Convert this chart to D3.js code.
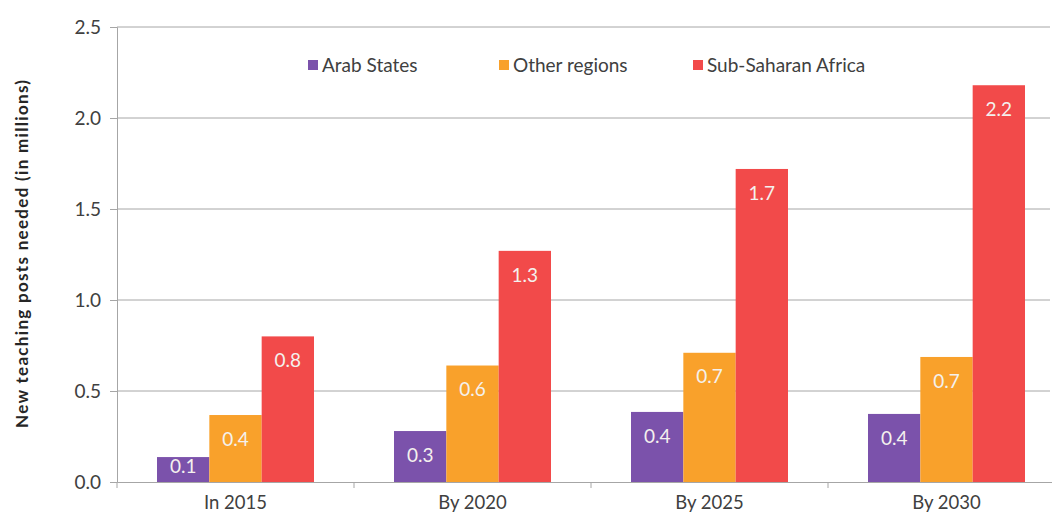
<!DOCTYPE html>
<html>
<head>
<meta charset="utf-8">
<script src="https://cdn.jsdelivr.net/npm/d3@7"></script>
<style>
  body { margin: 0; background: #fff; }
  text { font-family: Lato, "Open Sans", sans-serif; }
</style>
</head>
<body>
<div id="chart"></div>
<script>
const periods = ['In 2015', 'By 2020', 'By 2025', 'By 2030'];
const regions = ['Arab States', 'Other regions', 'Sub-Saharan Africa'];
const arabStates = [0.137, 0.28, 0.385, 0.374];
const otherRegions = [0.368, 0.64, 0.71, 0.687];
const subSaharan = [0.80, 1.27, 1.72, 2.18];
const barLabels = [
  ['0.1', '0.3', '0.4', '0.4'],
  ['0.4', '0.6', '0.7', '0.7'],
  ['0.8', '1.3', '1.7', '2.2']
];
const yTicks = [0, 0.5, 1.0, 1.5, 2.0, 2.5];
const colors = ['#7b52ab', '#f9a12b', '#f24a4a'];

const seriesValues = [arabStates, otherRegions, subSaharan];

const W = 1052, H = 518;
const margin = { top: 27, right: -13, bottom: 36, left: 117 };
const width = W - margin.left - margin.right,
      height = H - margin.top - margin.bottom;

const svg = d3.select('#chart').append('svg')
    .attr('width', W).attr('height', H)
  .append('g')
    .attr('transform', `translate(${margin.left},${margin.top})`);

// scales
const x = d3.scaleBand().domain(periods).range([0, width]).padding(0);
const xInner = d3.scaleBand().domain(regions)
    .range([40, x.bandwidth() - 40]).padding(0);
const y = d3.scaleLinear().domain([0, 2.5]).range([height, 0]);

// gridlines
svg.selectAll('.grid')
  .data(yTicks.slice(1))
  .enter().append('line')
    .attr('class', 'grid')
    .attr('x1', 0).attr('x2', W - margin.left - 2)
    .attr('y1', d => y(d)).attr('y2', d => y(d))
    .attr('stroke', '#a6a6a6').attr('stroke-width', 1);

// y axis
const yAxis = svg.append('g')
  .call(d3.axisLeft(y).tickValues(yTicks).tickFormat(d3.format('.1f')).tickSize(7).tickPadding(9));
yAxis.select('.domain').attr('stroke', '#a6a6a6');
yAxis.selectAll('.tick line').attr('stroke', '#a6a6a6');
yAxis.selectAll('.tick text')
  .attr('fill', '#404040').style('font-size', '19px');

// x axis
const xAxis = svg.append('g')
  .attr('transform', `translate(0,${height})`)
  .call(d3.axisBottom(x).tickSize(0).tickPadding(14));
xAxis.select('.domain').attr('stroke', '#a6a6a6');
xAxis.selectAll('.tick text').attr('fill', '#404040').style('font-size', '18.5px');
svg.selectAll('.xtick')
  .data(periods)
  .enter().append('line')
    .attr('x1', d => x(d)).attr('x2', d => x(d))
    .attr('y1', height).attr('y2', height + 6)
    .attr('stroke', '#a6a6a6');

// bars
const groups = svg.selectAll('.series')
  .data(seriesValues)
  .enter().append('g')
    .attr('class', 'series')
    .attr('fill', (d, i) => colors[i]);

groups.each(function(vals, si) {
  const g = d3.select(this);
  g.selectAll('rect')
    .data(vals)
    .enter().append('rect')
      .attr('x', (d, i) => x(periods[i]) + xInner(regions[si]))
      .attr('y', d => y(d))
      .attr('width', xInner.bandwidth())
      .attr('height', d => height - y(d));

  g.selectAll('.val')
    .data(vals)
    .enter().append('text')
      .attr('class', 'val')
      .attr('x', (d, i) => x(periods[i]) + xInner(regions[si]) + xInner.bandwidth() / 2)
      .attr('y', d => Math.min(y(d) + 24, height - 16))
      .attr('dy', '0.35em')
      .attr('text-anchor', 'middle')
      .attr('fill', '#f4f1ee')
      .style('font-size', '19px')
      .text((d, i) => barLabels[si][i]);
});

// legend
const legendX = [191, 382, 576];
const legend = svg.selectAll('.legend')
  .data(regions)
  .enter().append('g')
    .attr('transform', (d, i) => `translate(${legendX[i]},${65 - margin.top})`);
legend.append('rect')
  .attr('x', 0).attr('y', -5).attr('width', 10).attr('height', 10)
  .attr('fill', (d, i) => colors[i]);
legend.append('text')
  .attr('x', 14).attr('y', 0).attr('dy', '0.35em')
  .attr('fill', '#404040').style('font-size', '19px')
  .text(d => d);

// y axis title
svg.append('text')
  .attr('transform', `translate(${22 - margin.left},${254 - margin.top}) rotate(-90)`)
  .attr('text-anchor', 'middle')
  .attr('dy', '0.35em')
  .attr('fill', '#262626')
  .style('font-size', '17px')
  .style('font-weight', 'bold')
  .attr('textLength', 348)
  .attr('lengthAdjust', 'spacing')
  .text('New teaching posts needed (in millions)');
</script>
</body>
</html>
